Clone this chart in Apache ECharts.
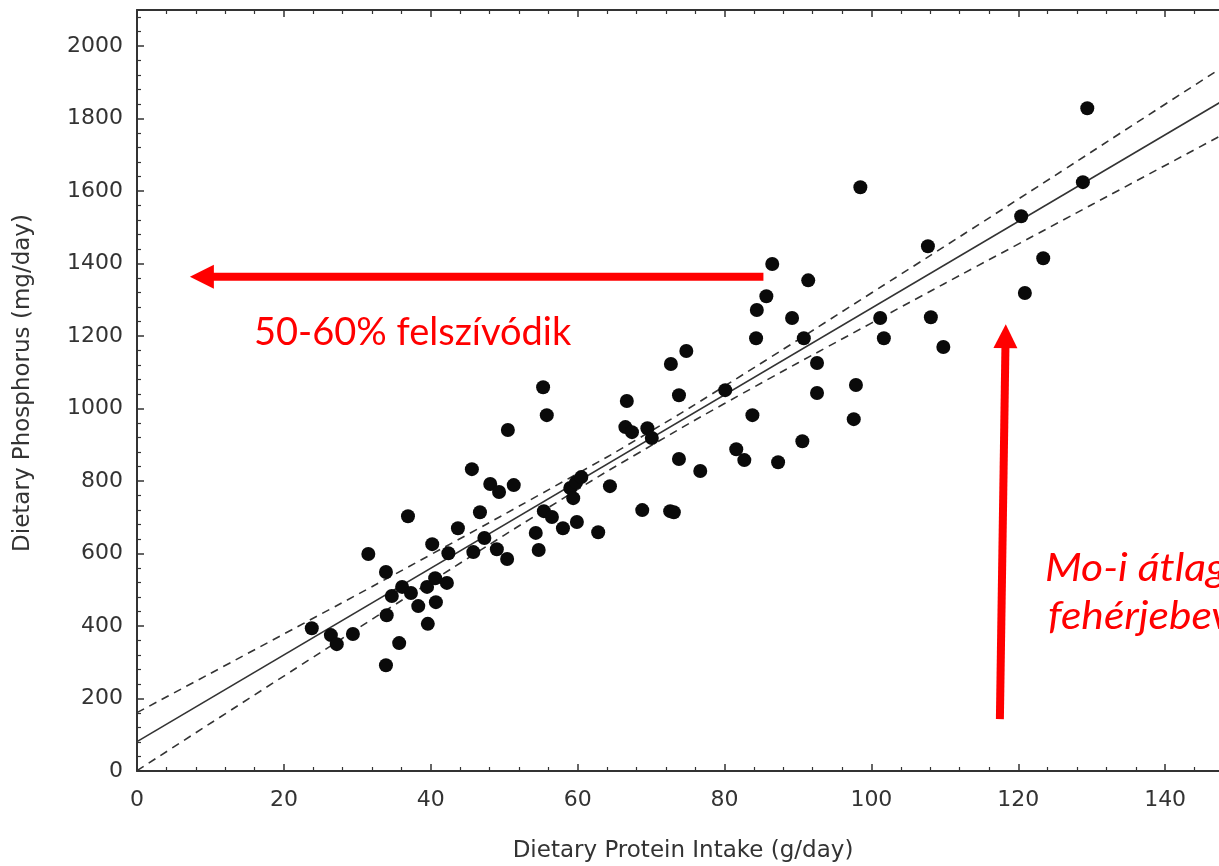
<!DOCTYPE html>
<html><head><meta charset="utf-8">
<script src="https://cdn.jsdelivr.net/npm/echarts@6/dist/echarts.min.js"></script>
<style>html,body{margin:0;padding:0;background:#fff}#c{width:1219px;height:866px}</style>
</head><body><div id="c"></div>
<script>
// Data
const proteinIntake = [23.8,26.4,27.2,29.4,31.5,33.9,33.9,34.0,34.7,35.7,36.1,36.9,37.3,38.3,39.5,39.6,40.2,40.6,40.7,42.2,42.4,43.7,45.6,45.8,46.7,47.3,48.1,49.0,49.3,50.4,50.5,51.3,54.3,54.7,55.3,55.4,55.8,56.5,58.0,59.0,59.4,59.8,59.9,60.5,62.8,64.4,66.7,66.5,67.4,68.8,69.5,70.1,72.6,72.7,73.1,73.8,73.8,74.8,76.7,80.1,81.6,82.7,83.8,84.3,84.4,85.7,86.5,87.3,89.2,90.6,90.8,91.4,92.6,92.6,97.6,97.9,98.5,101.2,101.7,107.7,108.1,109.8,120.4,120.9,123.4,128.8,129.4];
const phosphorus = [394,375,350,378,599,549,292,430,483,353,508,703,491,455,508,406,626,532,466,519,601,670,833,604,714,643,792,612,770,585,941,789,657,610,1059,717,982,701,670,781,753,797,687,811,659,786,1021,949,935,720,946,919,717,1123,714,1037,861,1159,828,1051,888,858,982,1194,1272,1310,1399,852,1250,910,1194,1354,1126,1043,971,1065,1611,1250,1194,1448,1252,1170,1531,1319,1415,1625,1829];
const fitX = [0, 160];
const fitY = [81, 1995];
const bandX = [0, 20, 40, 60, 68, 80, 100, 120, 140, 160];
const bandUpper = [161, 378, 597, 821, 914, 1062, 1319, 1578, 1840, 2101];
const bandLower = [1, 262, 522, 777, 874, 1014, 1236, 1454, 1671, 1888];
const xTickValues = [0, 20, 40, 60, 80, 100, 120, 140];
const yTickValues = [0, 200, 400, 600, 800, 1000, 1200, 1400, 1600, 1800, 2000];
const xTitle = 'Dietary Protein Intake (g/day)';
const yTitle = 'Dietary Phosphorus (mg/day)';
const noteLeft = '50-60% felszívódik';
const noteRight1 = 'Mo-i átlagos';
const noteRight2 = 'fehérjebevitel';
const arrowH = {from: [85.3, 1364], to: [7.2, 1364]};
const arrowV = {from: [117.5, 143], to: [118.3, 1233]};

const axisColor = '#333';
const axisFontFamily = 'DejaVu Sans, Liberation Sans, Arial, sans-serif';
const labelFont = {fontFamily: axisFontFamily, fontSize: 22, color: '#333'};

const chart = echarts.init(document.getElementById('c'), null, {renderer: 'canvas'});
const pts = proteinIntake.map((x, i) => [x, phosphorus[i]]);
const zip = (a, b) => a.map((v, i) => [v, b[i]]);

function commonX(pos, showLabel) {
  return {
    type: 'value', position: pos, min: 0, max: 160, interval: 20,
    axisLine: {show: true, onZero: false, lineStyle: {color: axisColor, width: 2}},
    axisTick: {show: true, inside: true, length: 7, lineStyle: {color: axisColor, width: 1.5}},
    minorTick: {show: true, splitNumber: 5, length: 4, lineStyle: {color: axisColor, width: 1.2}},
    splitLine: {show: false},
    axisLabel: {show: showLabel, margin: 18, ...labelFont,
      formatter: v => xTickValues.includes(v) ? String(v) : ''}
  };
}

const option = {
  animation: false,
  backgroundColor: '#fff',
  grid: {left: 137, top: 10, width: 1175, height: 761, containLabel: false, outerBoundsMode: 'none'},
  xAxis: [commonX('bottom', true), commonX('top', false)],
  yAxis: [{
    type: 'value', min: 0, max: 2100, interval: 200,
    axisLine: {show: true, onZero: false, lineStyle: {color: axisColor, width: 2}},
    axisTick: {show: true, inside: true, length: 7, lineStyle: {color: axisColor, width: 1.5}},
    minorTick: {show: true, splitNumber: 5, length: 4, lineStyle: {color: axisColor, width: 1.2}},
    splitLine: {show: false},
    axisLabel: {margin: 14, ...labelFont,
      formatter: v => yTickValues.includes(v) ? String(v) : ''}
  }],
  series: [
    {type: 'line', data: zip(fitX, fitY), symbol: 'none', silent: true,
     lineStyle: {color: '#333', width: 1.6}},
    {type: 'line', data: zip(bandX, bandUpper), symbol: 'none', smooth: true, silent: true,
     lineStyle: {color: '#333', width: 1.6, type: [8, 6]}},
    {type: 'line', data: zip(bandX, bandLower), symbol: 'none', smooth: true, silent: true,
     lineStyle: {color: '#333', width: 1.6, type: [8, 6]}},
    {type: 'scatter', data: pts, symbol: 'circle', symbolSize: 14,
     itemStyle: {color: '#0a0a0a', opacity: 1}, z: 5}
  ]
};
chart.setOption(option);

const px = v => chart.convertToPixel({gridIndex: 0}, v);
function arrow(a) {
  const t = px(a.from), h = px(a.to);
  const dx = h[0] - t[0], dy = h[1] - t[1];
  const L = Math.hypot(dx, dy), ux = dx / L, uy = dy / L;
  const headLen = 24, headHalf = 12, w = 8;
  const bx = h[0] - ux * headLen, by = h[1] - uy * headLen;
  return [
    {type: 'line', shape: {x1: t[0], y1: t[1], x2: bx + ux * 2, y2: by + uy * 2},
     style: {stroke: '#ff0000', lineWidth: w, lineCap: 'butt'}, z: 10},
    {type: 'polygon', shape: {points: [[h[0], h[1]], [bx - uy * headHalf, by + ux * headHalf], [bx + uy * headHalf, by - ux * headHalf]]},
     style: {fill: '#ff0000'}, z: 10}
  ];
}

const noteFont = 'Lato, Open Sans, sans-serif';
chart.setOption({
  graphic: [
    ...arrow(arrowH),
    ...arrow(arrowV),
    {type: 'text', x: 254, y: 333, z: 10,
     style: {text: noteLeft, fill: '#ff0000', fontFamily: noteFont, fontSize: 38, verticalAlign: 'middle', align: 'left'}},
    {type: 'text', x: 1045, y: 569, scaleX: 1.12, z: 10,
     style: {text: noteRight1, fill: '#ff0000', fontFamily: noteFont, fontStyle: 'italic', fontSize: 38, verticalAlign: 'middle', align: 'left'}},
    {type: 'text', x: 1048, y: 617, scaleX: 1.12, z: 10,
     style: {text: noteRight2, fill: '#ff0000', fontFamily: noteFont, fontStyle: 'italic', fontSize: 38, verticalAlign: 'middle', align: 'left'}},
    {type: 'text', x: 683, y: 851, z: 10,
     style: {text: xTitle, fill: '#333', fontFamily: axisFontFamily, fontSize: 23, align: 'center', verticalAlign: 'middle'}},
    {type: 'text', x: 23, y: 383, rotation: Math.PI / 2, z: 10,
     style: {text: yTitle, fill: '#333', fontFamily: axisFontFamily, fontSize: 23, align: 'center', verticalAlign: 'middle'}}
  ]
});
</script>
</body></html>
